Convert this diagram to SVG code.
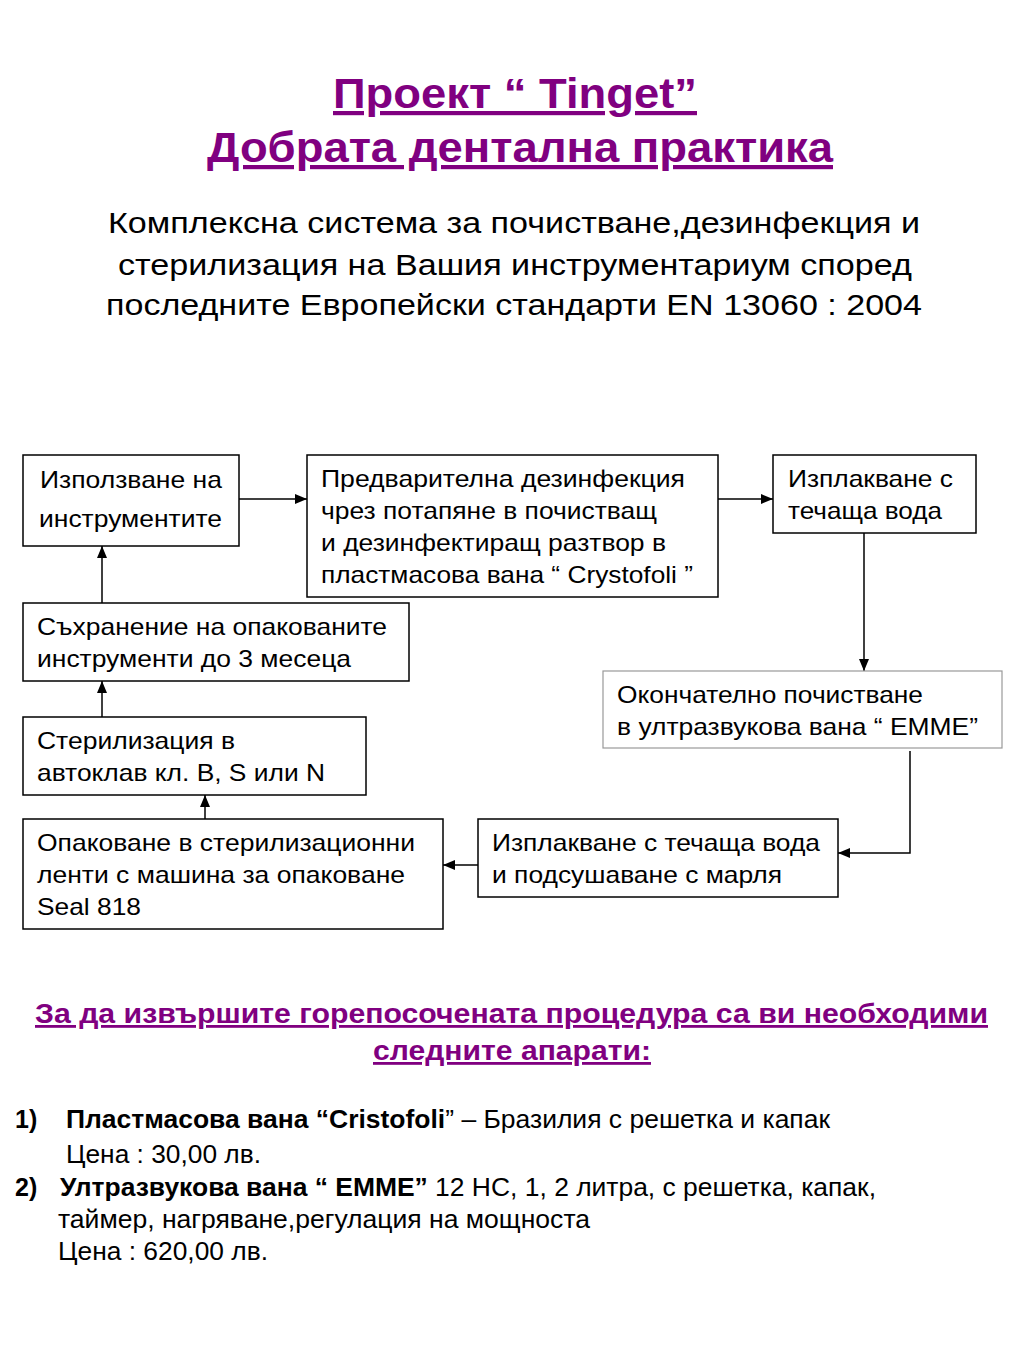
<svg xmlns="http://www.w3.org/2000/svg" width="1024" height="1365" viewBox="0 0 1024 1365">
<style>
.t{font-family:"Liberation Sans",Arial,sans-serif;fill:#000}
.title{font-family:"Liberation Sans",Arial,sans-serif;font-weight:bold;fill:#800080;text-decoration:underline}
.box{fill:#fff;stroke:#000;stroke-width:1.5}
.gbox{fill:#fff;stroke:#999;stroke-width:1.2}
.c{fill:none;stroke:#000;stroke-width:1.5}
.n{font-size:24px}
.b{font-weight:bold}
</style>
<defs>
<marker id="ah" viewBox="0 0 12 10" refX="12" refY="5" markerWidth="12" markerHeight="10" markerUnits="userSpaceOnUse" orient="auto">
<path d="M0,0 L12,5 L0,10 z" fill="#000"/>
</marker>
</defs>
<rect width="1024" height="1365" fill="#fff"/>
<g id="header">
<text class="title" x="515" y="108" font-size="42" text-anchor="middle" textLength="364" lengthAdjust="spacingAndGlyphs">Проект “ Tinget”</text>
<text class="title" x="520" y="162" font-size="42" text-anchor="middle" textLength="626" lengthAdjust="spacingAndGlyphs">Добрата дентална практика</text>
<text class="t" x="514" y="233" font-size="30" text-anchor="middle" textLength="812" lengthAdjust="spacingAndGlyphs">Комплексна система за почистване,дезинфекция и</text>
<text class="t" x="515" y="275" font-size="30" text-anchor="middle" textLength="794" lengthAdjust="spacingAndGlyphs">стерилизация на Вашия инструментариум според</text>
<text class="t" x="514" y="315" font-size="30" text-anchor="middle" textLength="816" lengthAdjust="spacingAndGlyphs">последните Европейски стандарти EN 13060 : 2004</text>
</g>
<g id="connectors">
<line class="c" x1="239" y1="499" x2="307" y2="499" marker-end="url(#ah)"/>
<line class="c" x1="718" y1="499" x2="773" y2="499" marker-end="url(#ah)"/>
<line class="c" x1="864" y1="533" x2="864" y2="671" marker-end="url(#ah)"/>
<polyline class="c" points="910,751 910,853 838,853" marker-end="url(#ah)"/>
<line class="c" x1="478" y1="865" x2="443" y2="865" marker-end="url(#ah)"/>
<line class="c" x1="205" y1="819" x2="205" y2="795" marker-end="url(#ah)"/>
<line class="c" x1="102" y1="717" x2="102" y2="681" marker-end="url(#ah)"/>
<line class="c" x1="102" y1="603" x2="102" y2="546" marker-end="url(#ah)"/>
</g>
<g id="n1">
<rect class="box" x="23" y="455" width="216" height="91"/>
<text class="t n" x="40" y="488" textLength="182" lengthAdjust="spacingAndGlyphs">Използване на</text>
<text class="t n" x="39" y="527" textLength="183" lengthAdjust="spacingAndGlyphs">инструментите</text>
</g>
<g id="n2">
<rect class="box" x="307" y="455" width="411" height="142"/>
<text class="t n" x="321" y="487" textLength="364" lengthAdjust="spacingAndGlyphs">Предварителна дезинфекция</text>
<text class="t n" x="321" y="519" textLength="336" lengthAdjust="spacingAndGlyphs">чрез потапяне в почистващ</text>
<text class="t n" x="321" y="551" textLength="345" lengthAdjust="spacingAndGlyphs">и дезинфектиращ разтвор в</text>
<text class="t n" x="321" y="583" textLength="372" lengthAdjust="spacingAndGlyphs">пластмасова вана “ Crystofoli ”</text>
</g>
<g id="n3">
<rect class="box" x="773" y="455" width="203" height="78"/>
<text class="t n" x="788" y="487" textLength="165" lengthAdjust="spacingAndGlyphs">Изплакване с</text>
<text class="t n" x="788" y="519" textLength="154" lengthAdjust="spacingAndGlyphs">течаща вода</text>
</g>
<g id="n4">
<rect class="gbox" x="603" y="671" width="399" height="77"/>
<text class="t n" x="617" y="703" textLength="306" lengthAdjust="spacingAndGlyphs">Окончателно почистване</text>
<text class="t n" x="617" y="735" textLength="361" lengthAdjust="spacingAndGlyphs">в ултразвукова вана “ EMME”</text>
</g>
<g id="n5">
<rect class="box" x="478" y="819" width="360" height="78"/>
<text class="t n" x="492" y="851" textLength="328" lengthAdjust="spacingAndGlyphs">Изплакване с течаща вода</text>
<text class="t n" x="492" y="883" textLength="290" lengthAdjust="spacingAndGlyphs">и подсушаване с марля</text>
</g>
<g id="n6">
<rect class="box" x="23" y="819" width="420" height="110"/>
<text class="t n" x="37" y="851" textLength="378" lengthAdjust="spacingAndGlyphs">Опаковане в стерилизационни</text>
<text class="t n" x="37" y="883" textLength="368" lengthAdjust="spacingAndGlyphs">ленти с машина за опаковане</text>
<text class="t n" x="37" y="915" textLength="104" lengthAdjust="spacingAndGlyphs">Seal 818</text>
</g>
<g id="n7">
<rect class="box" x="23" y="717" width="343" height="78"/>
<text class="t n" x="37" y="749" textLength="198" lengthAdjust="spacingAndGlyphs">Стерилизация в</text>
<text class="t n" x="37" y="781" textLength="288" lengthAdjust="spacingAndGlyphs">автоклав кл. B, S или N</text>
</g>
<g id="n8">
<rect class="box" x="23" y="603" width="386" height="78"/>
<text class="t n" x="37" y="635" textLength="350" lengthAdjust="spacingAndGlyphs">Съхранение на опакованите</text>
<text class="t n" x="37" y="667" textLength="314" lengthAdjust="spacingAndGlyphs">инструменти до 3 месеца</text>
</g>
<g id="footer">
<text class="title" x="35" y="1023" font-size="28" textLength="953" lengthAdjust="spacingAndGlyphs">За да извършите горепосочената процедура са ви необходими</text>
<text class="title" x="373" y="1060" font-size="28" textLength="278" lengthAdjust="spacingAndGlyphs">следните апарати:</text>
<text class="t b" x="15" y="1128" font-size="25">1)</text>
<text class="t" x="66" y="1128" font-size="25" textLength="764" lengthAdjust="spacingAndGlyphs"><tspan class="b">Пластмасова вана “Cristofoli</tspan>” – Бразилия с решетка и капак</text>
<text class="t" x="66" y="1163" font-size="25" textLength="195" lengthAdjust="spacingAndGlyphs">Цена : 30,00 лв.</text>
<text class="t b" x="15" y="1196" font-size="25">2)</text>
<text class="t" x="60" y="1196" font-size="25" textLength="816" lengthAdjust="spacingAndGlyphs"><tspan class="b">Ултразвукова вана “ EMME”</tspan> 12 HC, 1, 2 литра, с решетка, капак,</text>
<text class="t" x="58" y="1228" font-size="25" textLength="532" lengthAdjust="spacingAndGlyphs">таймер, нагряване,регулация на мощноста</text>
<text class="t" x="58" y="1260" font-size="25" textLength="210" lengthAdjust="spacingAndGlyphs">Цена : 620,00 лв.</text>
</g>
</svg>
